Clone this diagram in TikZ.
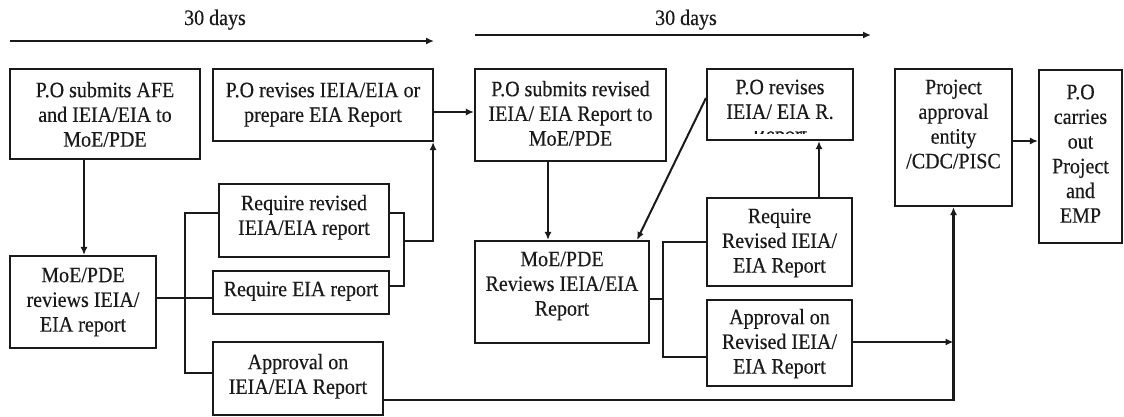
\documentclass[tikz,border=0pt]{standalone}
\usepackage{fontspec}
\setmainfont{Liberation Serif}[FakeStretch=0.91,FakeBold=0.35]
\usetikzlibrary{arrows.meta,calc}

\definecolor{ink}{HTML}{1A1A1A}

\tikzset{
  box/.style={draw=ink, line width=2.1pt, rectangle, inner sep=0pt},
  boxtext/.style={anchor=north, inner sep=0pt, align=center, text=ink,
                  font=\fontsize{22}{24.7}\selectfont},
  plainline/.style={draw=ink, line width=1.7pt},
  arr/.style={plainline, -{Latex[length=8pt,width=7pt]}},
  timelabel/.style={anchor=base, inner sep=0pt, text=ink,
                    font=\fontsize{22}{24.7}\selectfont},
}

% #1 name, #2 left, #3 top, #4 right, #5 bottom, #6 first baseline, #7 text
\newcommand\flowbox[7]{%
  \node[box, minimum width={#4-#2}, minimum height={#5-#3}]
    (#1) at ({(#2+#4)/2},{(#3+#5)/2}) {};
  \node[boxtext] (#1-text) at ({(#2+#4)/2},{#6-17.29}) {\strut #7};
}

\begin{document}
\begin{tikzpicture}[x=1pt,y=-1pt]
\useasboundingbox[fill=white] (0,0) rectangle (1124,416);

% time spans
\coordinate (t1s) at (10,41);
\coordinate (t1e) at (434,41);
\coordinate (t2s) at (475,35);
\coordinate (t2e) at (871,35);
\draw[arr] (t1s) -- (t1e);
\draw[arr] (t2s) -- (t2e);
\node[timelabel] (span1) at (215,25) {30 days};
\node[timelabel] (span2) at (686,25) {30 days};

% first review round
\flowbox{A}{10}{69}{200}{159}{97}{P.O submits AFE\\and IEIA/EIA to\\MoE/PDE}
\flowbox{B}{213}{69}{433}{141}{97}{P.O revises IEIA/EIA or\\prepare EIA Report}
\flowbox{G}{10}{256}{156}{348}{282}{MoE/PDE\\reviews IEIA/\\EIA report}
\flowbox{H}{219}{184}{389}{257}{210}{Require revised\\IEIA/EIA report}
\flowbox{I}{213}{271}{389}{314}{296}{Require EIA report}
\flowbox{J}{213}{342}{383}{415}{369}{Approval on\\IEIA/EIA Report}

% second review round
\flowbox{C}{475}{69}{666}{161}{96}{P.O submits revised\\IEIA/ EIA Report to\\MoE/PDE}
\flowbox{D}{707}{69}{853}{140}{94}{P.O revises\\IEIA/ EIA R.}
\begin{scope}
  \clip (709,131.2) rectangle (851,133.6);
  \node[timelabel] (D-cut) at (780,141.6) {Report};
\end{scope}
\flowbox{K}{475}{241}{649}{343}{266}{MoE/PDE\\Reviews IEIA/EIA\\Report}
\flowbox{L}{707}{198}{852}{286}{223}{Require\\Revised IEIA/\\EIA Report}
\flowbox{M}{707}{300}{852}{386}{324}{Approval on\\Revised IEIA/\\EIA Report}

% approval and implementation
\flowbox{E}{895}{69}{1012}{206}{94}{Project\\approval\\entity\\/CDC/PISC}
\flowbox{F}{1039}{70}{1122}{243}{99}{P.O\\carries\\out\\Project\\and\\EMP}

% junction points of the branch lines
\coordinate (b1t) at (185,213);
\coordinate (b1b) at (185,373);
\coordinate (m1t) at (404,213);
\coordinate (m1b) at (404,286);
\coordinate (m1c) at (404,241);
\coordinate (b2t) at (663,242);
\coordinate (b2b) at (663,357);
\coordinate (e2)  at (953.5,342);

% connectors, first round
\draw[arr, line width=2.1pt] (A.south -| 84,0) -- (G.north -| 84,0);
\draw[plainline] (G.east |- 0,298) -- (I.west |- 0,298);
\draw[plainline] (H.west |- b1t) -- (b1t) -- (b1b) -- (J.west |- b1b);
\draw[plainline] (H.east |- m1t) -- (m1t) -- (m1b) -- (I.east |- m1b);
\draw[arr] (m1c) -| ([xshift=-1pt]B.south east);
\draw[arr] (B.east |- 0,112) -- (C.west |- 0,112);

% connectors, second round
\draw[arr] (C.south -| 548,0) -- (K.north -| 548,0);
\draw[arr, line width=2pt] (D.west |- 0,98) -- (K.north -| 637,0);
\draw[plainline] (K.east |- 0,299) -- (b2t |- 0,299);
\draw[plainline] (L.west |- b2t) -- (b2t) -- (b2b) -- (M.west |- b2b);
\draw[arr] (L.north -| 819,0) -- (D.south -| 819,0);
\draw[arr] (M.east |- e2) -- (e2);

% approvals to the project approval entity
\draw[arr, line width=2.1pt] (J.east |- 0,400) -| (E.south);
\draw[arr] (E.east |- 0,141) -- (F.west |- 0,141);
\end{tikzpicture}
\end{document}
